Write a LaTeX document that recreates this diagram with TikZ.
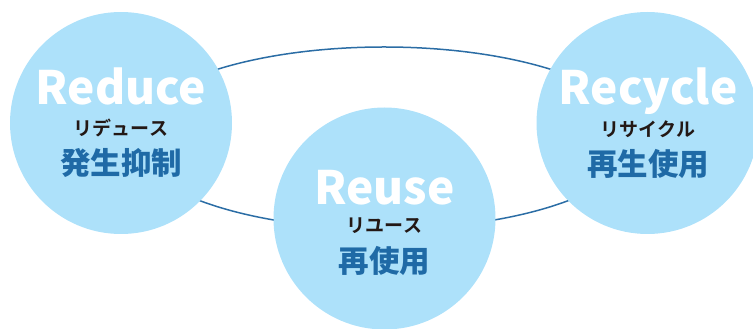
\documentclass[tikz,border=0pt]{standalone}
\usepackage{fontspec}
\setmainfont{Noto Sans CJK JP}[BoldFont={* Bold}]
\newfontfamily\heavyfont{Noto Sans CJK JP Black}
\usepackage{xcolor}
\definecolor{bubble}{HTML}{ADE1FA}
\definecolor{ringline}{HTML}{2B6DA5}
\definecolor{kanjiblue}{HTML}{1F6AA6}
\definecolor{kanablack}{HTML}{231815}
\tikzset{bubble/.style={circle,fill=bubble,minimum size=222pt,inner sep=0pt},
 title/.style={anchor=base,text=white,font=\fontsize{46}{46}\selectfont\heavyfont},
 kana/.style={text=kanablack,font=\fontsize{19}{19}\selectfont\bfseries},
 kanji/.style={text=kanjiblue,font=\fontsize{30.5}{31}\selectfont\heavyfont},
 ring/.style={draw=ringline,line width=1.5pt},
 }

\begin{document}
\begin{tikzpicture}[x=1pt,y=1pt]
        \useasboundingbox (0,0) rectangle (753,329);
        \coordinate (mid) at (384,191);
        \draw[ring] (mid) ellipse [x radius=254, y radius=91];
        \node[bubble] (reduce) at (121,206) {};
        \node[bubble] (reuse) at (384.5,110.5) {};
        \node[bubble] (recycle) at (647.5,206) {};
        \node[title] (reducetitle) at (121,224) {Reduce};
        \node[kana] (reducekana) at (121,201) {リデュース};
        \node[kanji] (reducekanji) at (121,166) {発生抑制};
        \node[title] (reusetitle) at (384.5,124) {Reuse};
        \node[kana] (reusekana) at (384.5,103) {リユース};
        \node[kanji] (reusekanji) at (384.5,68) {再使用};
        \node[title] (recycletitle) at (648,224) {Recycle};
        \node[kana] (recyclekana) at (648,200) {リサイクル};
        \node[kanji] (recyclekanji) at (648,165.5) {再生使用};
    \end{tikzpicture}
\end{document}
